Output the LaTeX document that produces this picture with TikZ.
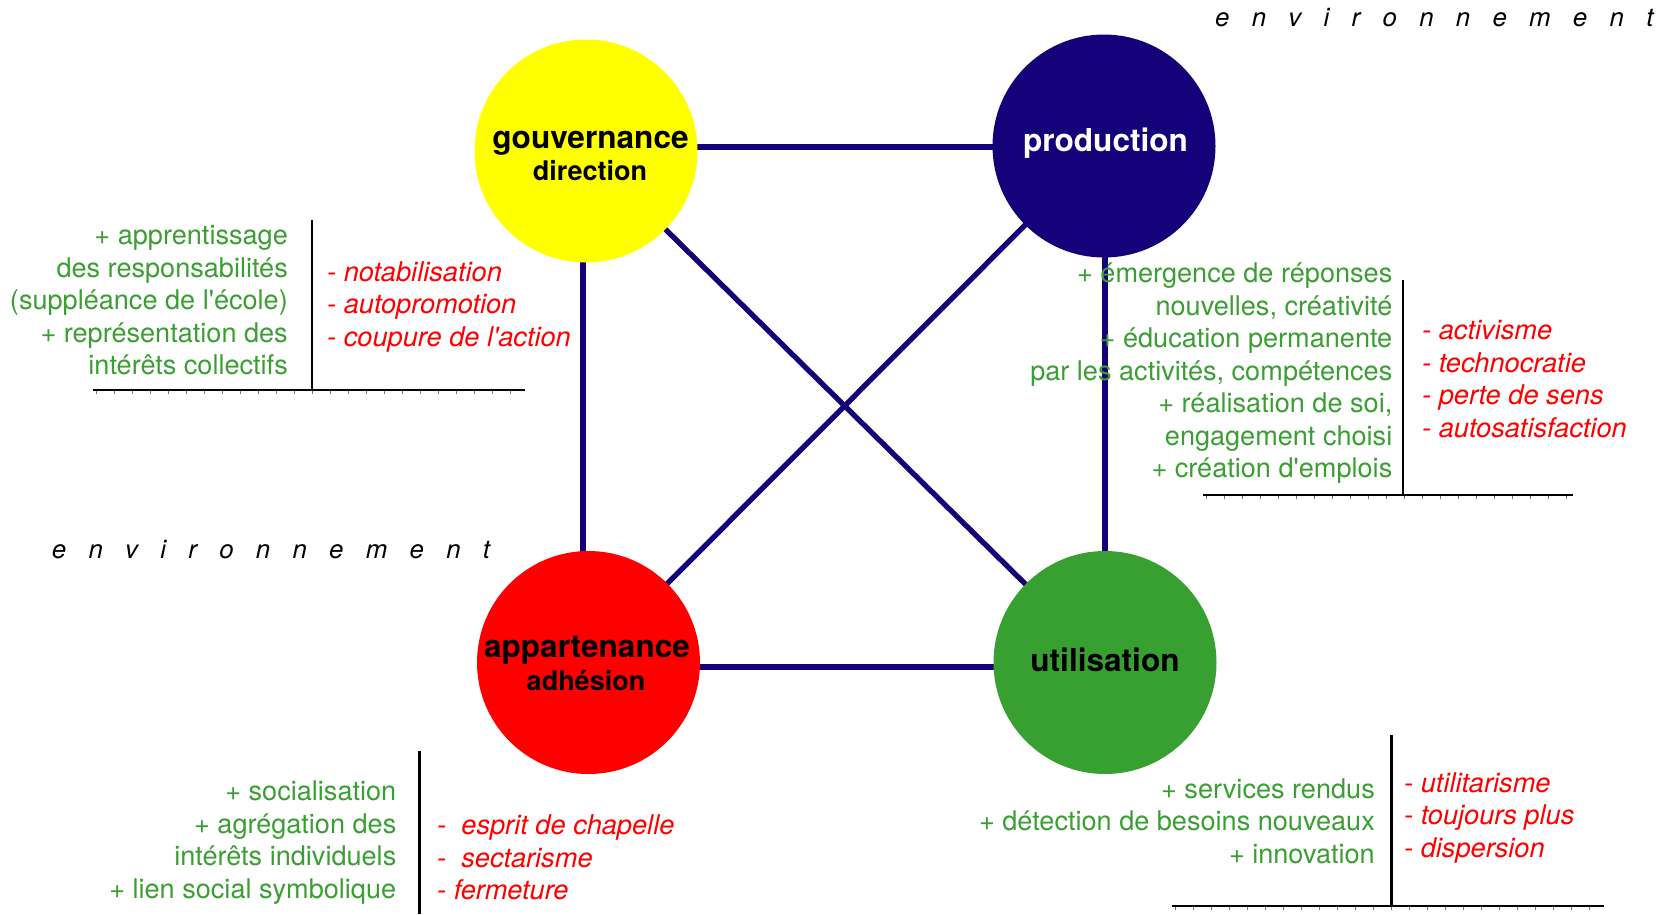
\documentclass[tikz,border=0pt]{standalone}
\usepackage{fontspec}
\setmainfont{TeX Gyre Heros}
\usetikzlibrary{backgrounds}

\definecolor{navy}{RGB}{20,0,120}
\definecolor{leaf}{RGB}{56,160,48}
\definecolor{pos}{RGB}{58,158,50}
\definecolor{neg}{RGB}{255,0,0}
\definecolor{sun}{RGB}{255,255,0}

% letter-spaced word
\newcommand\lsp{\hspace{22.3pt}}
\newcommand\envword{e\lsp n\lsp v\lsp i\lsp r\lsp o\lsp n\lsp n\lsp e\lsp m\lsp e\lsp n\lsp t}
% straight apostrophe
\newcommand\ap{\textquotesingle}

\begin{document}
\begin{tikzpicture}[x=1pt,y=-1pt,
  pole/.style={circle, minimum size=223pt, inner sep=0pt, draw=none},
  title/.style={font=\fontsize{31.6}{31.6}\selectfont\bfseries, inner sep=0pt, anchor=base},
  subtitle/.style={font=\fontsize{27}{27}\selectfont\bfseries, inner sep=0pt, anchor=base},
  link/.style={draw=navy, line width=5.3pt},
  plus/.style={text=pos, font=\fontsize{27.1}{32.5}\selectfont, inner sep=0pt, anchor=base east},
  minus/.style={text=neg, font=\fontsize{27.2}{32.6}\selectfont\itshape, inner sep=0pt, anchor=base west},
  rule/.style={line width=2.4pt, black},
  tick/.style={line width=0.7pt, black!55},
  env/.style={font=\fontsize{25.8}{25.8}\selectfont\itshape, inner sep=0pt, anchor=base west}
]
\path[use as bounding box] (0,0) rectangle (1665,914);

% the four poles
\node[pole, fill=sun]  (gouv) at (586,151) {};
\node[pole, fill=navy] (prod) at (1104,146) {};
\node[pole, fill=neg]  (app)  at (588.5,662.5) {};
\node[pole, fill=leaf] (util) at (1105,662.5) {};

\node[title]    (gouvT) at (590.5,148.3) {gouvernance};
\node[subtitle] (gouvS) at (590,180) {direction};
\node[title, text=white] (prodT) at (1105.5,151.5) {production};
\node[title]    (appT)  at (587,657.3) {appartenance};
\node[subtitle] (appS)  at (586,690.7) {adhésion};
\node[title]    (utilT) at (1105,671.7) {utilisation};

% links between the poles
\begin{scope}[on background layer]
  \draw[link] ([yshift=4pt]gouv.center) -- ([yshift=-1pt]prod.center);
  \draw[link] ([yshift=-4.5pt]app.center) -- ([yshift=-4.5pt]util.center);
  \draw[link] ([xshift=-3pt]gouv.center) -- ([xshift=-5.5pt]app.center);
  \draw[link] ([xshift=1pt]prod.center) -- (util.center);
  \draw[link] (gouv.center) -- (util.center);
  \draw[link] (prod.center) -- (app.center);
\end{scope}

% environment labels
\node[env] (envTop) at (1215,26.5) {\envword};
\node[env] (envLeft) at (51.7,558.3) {\envword};

% gouvernance: strengths and risks
\node[plus] (gouvP) at (288,244.5) {\begin{tabular}[t]{@{}r@{}}
+ apprentissage\\ des responsabilités\\ (suppléance de l\ap école)\\
+ représentation des\\ intérêts collectifs\end{tabular}};
\node[minus] (gouvM) at (327,281) {\begin{tabular}[t]{@{}l@{}}
- notabilisation\\ - autopromotion\\ - coupure de l\ap action\end{tabular}};
\draw[rule] (312,220) -- (312,390);
\draw[rule] (93,390) -- (525,390);
\foreach \x in {96,114,...,522} \draw[tick] (\x,391) -- ++(0,3);

% production: strengths and risks
\node[plus] (prodP) at (1392.5,282.5) {\begin{tabular}[t]{@{}r@{}}
+ émergence de réponses\\ nouvelles, créativité\\ + éducation permanente\\
par les activités, compétences\\ + réalisation de soi,\\ engagement choisi\\
+ création d\ap emplois\end{tabular}};
\node[minus] (prodM) at (1422,339.5) {\begin{tabular}[t]{@{}l@{}}
- activisme\\ - technocratie\\ - perte de sens\\ - autosatisfaction\end{tabular}};
\draw[rule] (1403,280) -- (1403,495);
\draw[rule] (1203,495) -- (1573,495);
\foreach \x in {1206,1224,...,1570} \draw[tick] (\x,496) -- ++(0,3);

% appartenance: strengths and risks
\node[plus] (appP) at (396.5,800.5) {\begin{tabular}[t]{@{}r@{}}
+ socialisation\\ + agrégation des\\ intérêts individuels\\
+ lien social symbolique\end{tabular}};
\node[minus] (appM) at (437,834.5) {\begin{tabular}[t]{@{}l@{}}
-\ \ esprit de chapelle\\ -\ \ sectarisme\\ - fermeture\end{tabular}};
\draw[rule] (419.5,751) -- (419.5,914);

% utilisation: strengths and risks
\node[plus] (utilP) at (1375,798) {\begin{tabular}[t]{@{}r@{}}
+ services rendus\\ + détection de besoins nouveaux\\ + innovation\end{tabular}};
\node[minus] (utilM) at (1404,792.2) {\begin{tabular}[t]{@{}l@{}}
- utilitarisme\\ - toujours plus\\ - dispersion\end{tabular}};
\draw[rule] (1391.5,735) -- (1391.5,906);
\draw[rule] (1172,906) -- (1604,906);
\foreach \x in {1175,1193,...,1601} \draw[tick] (\x,907) -- ++(0,3);
\end{tikzpicture}
\end{document}
